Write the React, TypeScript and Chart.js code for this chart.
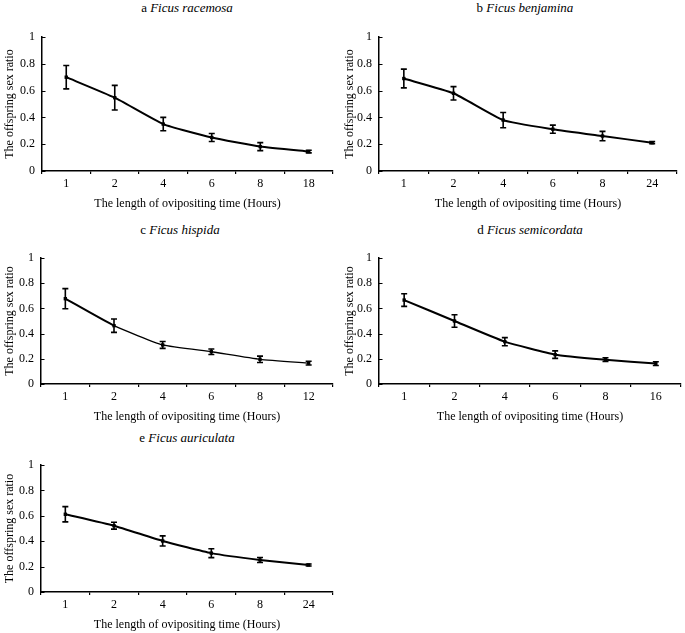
import React, { useEffect, useRef } from "react";
import { Chart, registerables } from "chart.js";

Chart.register(...registerables);

const FONT = "'Liberation Serif', 'Times New Roman', serif";

// ---- data ----
const hoursA = ["1", "2", "4", "6", "8", "18"];
const hoursB = ["1", "2", "4", "6", "8", "24"];
const hoursC = ["1", "2", "4", "6", "8", "12"];
const hoursD = ["1", "2", "4", "6", "8", "16"];
const hoursE = ["1", "2", "4", "6", "8", "24"];

const ratioA = [0.70, 0.547, 0.35, 0.25, 0.182, 0.145];
const errA = [0.087, 0.092, 0.05, 0.03, 0.03, 0.01];
const ratioB = [0.69, 0.58, 0.38, 0.312, 0.261, 0.211];
const errB = [0.07, 0.05, 0.057, 0.03, 0.035, 0.008];
const ratioC = [0.677, 0.463, 0.31, 0.256, 0.196, 0.166];
const errC = [0.08, 0.053, 0.027, 0.022, 0.025, 0.015];
const ratioD = [0.666, 0.5, 0.336, 0.233, 0.193, 0.162];
const errD = [0.05, 0.05, 0.032, 0.03, 0.015, 0.015];
const ratioE = [0.612, 0.522, 0.402, 0.306, 0.252, 0.213];
const errE = [0.06, 0.027, 0.04, 0.035, 0.02, 0.008];

const yTicks = [0, 0.2, 0.4, 0.6, 0.8, 1];

const xTitle = "The length of ovipositing time (Hours)";
const yTitle = "The offspring sex ratio";

type Panel = {
  letter: string;
  species: string;
  labels: string[];
  values: number[];
  errors: number[];
  canvas: { left: number; top: number; width: number; height: number };
  titlePos: { cx: number; cy: number };
  padTop: number;
  padRight: number;
  yWidth: number;
  xHeight: number;
  xTitlePad: number;
  thin?: boolean;
};

const panels: Panel[] = [
  {
    letter: "a", species: "Ficus racemosa", labels: hoursA, values: ratioA, errors: errA,
    canvas: { left: 0, top: 20, width: 340, height: 195 }, titlePos: { cx: 187, cy: 8 },
    padTop: 17, padRight: 7, yWidth: 42, xHeight: 44, xTitlePad: 4,
  },
  {
    letter: "b", species: "Ficus benjamina", labels: hoursB, values: ratioB, errors: errB,
    canvas: { left: 340, top: 20, width: 345, height: 195 }, titlePos: { cx: 525, cy: 8 },
    padTop: 17, padRight: 8, yWidth: 39, xHeight: 44, xTitlePad: 4,
  },
  {
    letter: "c", species: "Ficus hispida", labels: hoursC, values: ratioC, errors: errC,
    canvas: { left: 0, top: 235, width: 340, height: 193 }, titlePos: { cx: 180, cy: 230 },
    padTop: 23, padRight: 7, yWidth: 41, xHeight: 44, xTitlePad: 4, thin: true,
  },
  {
    letter: "d", species: "Ficus semicordata", labels: hoursD, values: ratioD, errors: errD,
    canvas: { left: 340, top: 235, width: 345, height: 193 }, titlePos: { cx: 530, cy: 230 },
    padTop: 23, padRight: 3, yWidth: 39, xHeight: 44, xTitlePad: 4,
  },
  {
    letter: "e", species: "Ficus auriculata", labels: hoursE, values: ratioE, errors: errE,
    canvas: { left: 0, top: 448, width: 340, height: 185 }, titlePos: { cx: 187, cy: 438 },
    padTop: 17, padRight: 7, yWidth: 41, xHeight: 41, xTitlePad: 1,
  },
];

const errorBarPlugin = {
  id: "errorBars",
  afterDatasetsDraw(chart: any) {
    const { ctx } = chart;
    const yScale = chart.scales.y;
    chart.data.datasets.forEach((ds: any, i: number) => {
      const meta = chart.getDatasetMeta(i);
      const errs: number[] = ds.errors || [];
      meta.data.forEach((pt: any, j: number) => {
        const v = ds.data[j];
        const e = errs[j] || 0;
        const yt = yScale.getPixelForValue(v + e);
        const yb = yScale.getPixelForValue(v - e);
        const x = pt.x;
        ctx.save();
        ctx.strokeStyle = "#000";
        ctx.lineWidth = 1.6;
        ctx.beginPath();
        ctx.moveTo(x, yt);
        ctx.lineTo(x, yb);
        ctx.moveTo(x - 3, yt);
        ctx.lineTo(x + 3, yt);
        ctx.moveTo(x - 3, yb);
        ctx.lineTo(x + 3, yb);
        ctx.stroke();
        ctx.restore();
      });
    });
  },
};

// y-axis tick marks point inward (into the plot area)
const innerTicksPlugin = {
  id: "innerTicks",
  afterDraw(chart: any) {
    const { ctx } = chart;
    const yScale = chart.scales.y;
    const left = chart.chartArea.left;
    ctx.save();
    ctx.strokeStyle = "#000";
    ctx.lineWidth = 1.2;
    ctx.beginPath();
    yScale.ticks.forEach((t: any) => {
      const y = Math.round(yScale.getPixelForValue(t.value)) + 0.5;
      ctx.moveTo(left, y);
      ctx.lineTo(left + 3.5, y);
    });
    ctx.stroke();
    ctx.restore();
  },
};

function PanelChart({ p }: { p: Panel }) {
  const ref = useRef<HTMLCanvasElement | null>(null);
  useEffect(() => {
    if (!ref.current) return;
    const chart = new Chart(ref.current, {
      type: "line",
      data: {
        labels: p.labels,
        datasets: [
          {
            data: p.values,
            errors: p.errors,
            borderColor: "#000",
            backgroundColor: "#000",
            borderWidth: 2,
            pointStyle: "rect",
            pointRadius: 2.4,
            pointBorderWidth: 0,
            tension: 0.15,
            segment: p.thin
              ? { borderWidth: (c: any) => (c.p0DataIndex < 1 ? 2 : 1.3) }
              : undefined,
          } as any,
        ],
      },
      options: {
        responsive: false,
        animation: false,
        devicePixelRatio: 1,
        layout: { padding: { top: p.padTop, right: p.padRight, left: 0, bottom: 0 } },
        plugins: { legend: { display: false }, tooltip: { enabled: false }, title: { display: false } },
        scales: {
          x: {
            type: "category",
            offset: true,
            grid: { offset: true, drawOnChartArea: false, drawTicks: true, tickLength: 3, color: "#000", lineWidth: 1.2 },
            border: { display: true, color: "#000", width: 1.5 },
            ticks: { color: "#000", font: { family: FONT, size: 12 }, padding: 3, maxRotation: 0, autoSkip: false },
            title: { display: true, text: xTitle, color: "#000", font: { family: FONT, size: 12 }, padding: { top: 0, bottom: p.xTitlePad } },
            afterFit: (s: any) => { s.height = p.xHeight; },
          },
          y: {
            min: 0,
            max: 1,
            afterBuildTicks: (s: any) => { s.ticks = yTicks.map((v) => ({ value: v })); },
            grid: { drawOnChartArea: false, drawTicks: false, color: "#000" },
            border: { display: true, color: "#000", width: 1.5 },
            ticks: { color: "#000", font: { family: FONT, size: 12 }, padding: 7, callback: (v: any) => String(Number(v)) },
            title: { display: true, text: yTitle, color: "#000", font: { family: FONT, size: 12 }, padding: { top: 3, bottom: 0 } },
            afterFit: (s: any) => { s.width = p.yWidth; },
          },
        },
      } as any,
      plugins: [errorBarPlugin, innerTicksPlugin],
    });
    return () => chart.destroy();
  }, [p]);
  return (
    <canvas
      ref={ref}
      width={p.canvas.width}
      height={p.canvas.height}
      style={{
        position: "absolute",
        left: p.canvas.left,
        top: p.canvas.top,
        width: p.canvas.width,
        height: p.canvas.height,
        display: "block",
      }}
    />
  );
}

export default function App() {
  return (
    <div
      style={{
        position: "absolute",
        left: 0,
        top: 0,
        width: 685,
        height: 633,
        background: "#fff",
        overflow: "hidden",
        fontFamily: FONT,
      }}
    >
      {panels.map((p) => (
        <React.Fragment key={p.letter}>
          <div
            style={{
              position: "absolute",
              left: p.titlePos.cx - 120,
              top: p.titlePos.cy - 8,
              width: 240,
              height: 16,
              lineHeight: "16px",
              textAlign: "center",
              fontSize: 13,
              color: "#000",
              whiteSpace: "nowrap",
            }}
          >
            {p.letter} <i>{p.species}</i>
          </div>
          <PanelChart p={p} />
        </React.Fragment>
      ))}
    </div>
  );
}
